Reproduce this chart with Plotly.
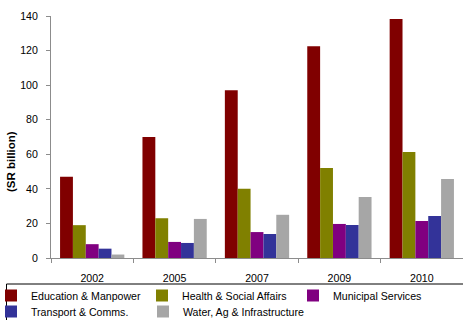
import plotly.graph_objects as go

# Government spending by sector, SR billion
years = ["2002", "2005", "2007", "2009", "2010"]
education = [47, 70, 97, 122.5, 138.3]
health = [19, 23, 40, 52, 61.3]
municipal = [8, 9.3, 15, 19.7, 21.4]
transport = [5.4, 8.7, 13.9, 19.1, 24.3]
water = [2, 22.6, 25, 35.3, 45.7]

# name, values, colour, legend slot
series = [
    ("Education & Manpower", education, "#800000", "legend"),
    ("Health & Social Affairs", health, "#808000", "legend"),
    ("Municipal Services", municipal, "#800080", "legend"),
    ("Transport & Comms.", transport, "#333399", "legend2"),
    ("Water, Ag & Infrastructure", water, "#A6A6A6", "legend3"),
]

W, H = 463, 320
ML, MR, MT, MB = 51, 0, 16, 62
PW = W - ML - MR
PH = H - MT - MB


def px_x(p):
    return (p - ML) / PW


def px_y(p):
    return (H - MB - p) / PH


fig = go.Figure()
for name, vals, color, leg in series:
    fig.add_trace(go.Bar(name=name, x=years, y=vals, marker_color=color,
                         marker_line_width=0, legend=leg))

font = "Liberation Sans, Arial, sans-serif"
axis_col = "#8C8C8C"
leg_common = dict(orientation="h", xanchor="left", yanchor="top",
                  itemwidth=30, tracegroupgap=0, bgcolor="rgba(0,0,0,0)",
                  font=dict(size=10.6, color="#000000"))

fig.update_layout(
    width=W, height=H,
    margin=dict(l=ML, r=MR, t=MT, b=MB, autoexpand=False),
    paper_bgcolor="white", plot_bgcolor="white",
    barmode="group", bargap=0.22, bargroupgap=0,
    font=dict(family=font, size=10.6, color="#000000"),
    xaxis=dict(type="category", showline=True, linecolor=axis_col, linewidth=1,
               ticks="outside", ticklen=4, tickcolor=axis_col, tickson="boundaries",
               showgrid=False, ticklabelstandoff=10,
               tickfont=dict(size=10.6, color="#000000")),
    yaxis=dict(range=[0, 140], dtick=20, showline=True, linecolor=axis_col,
               linewidth=1, ticks="outside", ticklen=4, tickcolor=axis_col,
               showgrid=False, zeroline=False, ticklabelstandoff=6,
               tickfont=dict(size=10.6, color="#000000")),
    legend=dict(x=px_x(-9), y=px_y(281), entrywidth=106,
                entrywidthmode="pixels", **leg_common),
    legend2=dict(x=px_x(-9), y=px_y(297), **leg_common),
    legend3=dict(x=px_x(143), y=px_y(297), **leg_common),
    showlegend=True,
    annotations=[dict(text="<b>(SR billion)</b>", textangle=-90, xref="paper",
                      yref="paper", x=px_x(10.5), y=px_y(161.5), xanchor="center",
                      yanchor="middle", showarrow=False,
                      font=dict(size=11.5, color="#000000"))],
    shapes=[dict(type="rect", xref="paper", yref="paper",
                 x0=px_x(6.5), x1=px_x(W + 20), y0=px_y(284), y1=px_y(H + 20),
                 line=dict(color="#000000", width=1), layer="below")],
)

fig.write_html("out.html")
